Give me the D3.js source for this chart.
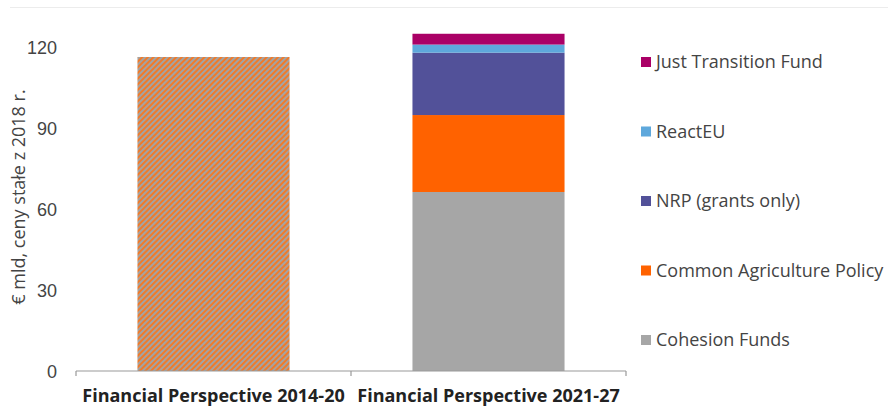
<!DOCTYPE html>
<html>
<head>
<meta charset="utf-8">
<script src="https://cdn.jsdelivr.net/npm/d3@7"></script>
<style>
  body { margin: 0; background: #fff; }
  svg { display: block; font-family: "Open Sans", "Noto Sans", sans-serif; }
</style>
</head>
<body>
<svg id="chart" width="888" height="407"></svg>
<script>
// Categories on the x axis
const categories = ["Financial Perspective 2014-20", "Financial Perspective 2021-27"];
// Stacked series for the 2021-27 perspective (bottom to top)
const seriesNames = ["Cohesion Funds", "Common Agriculture Policy", "NRP (grants only)", "ReactEU", "Just Transition Fund"];
const seriesColors = ["#a6a6a6", "#ff6200", "#525199", "#5ea8dc", "#aa0066"];
const values2021 = [66.3, 28.5, 23.1, 3.0, 4.0];
// Total for 2014-20 (single hatched bar)
const total2014 = 116.3;
const yTicks = [0, 30, 60, 90, 120];
const yTitle = "€ mld, ceny stałe z 2018 r.";

const svg = d3.select("#chart");

const x = d3.scaleBand().domain(categories).range([76, 626]).paddingInner(0.447).paddingOuter(0.2235);
const y = d3.scaleLinear().domain([0, 120]).range([371, 47]);

// Top rule
svg.append("line").attr("x1", 10).attr("x2", 888).attr("y1", 7.5).attr("y2", 7.5)
  .attr("stroke", "#ececec").attr("stroke-width", 1);

// Hatch pattern
const defs = svg.append("defs");
const pat = defs.append("pattern").attr("id", "hatch").attr("patternUnits", "userSpaceOnUse")
  .attr("width", 4).attr("height", 4).attr("patternTransform", "rotate(45)");
pat.append("rect").attr("width", 4).attr("height", 4).attr("fill", "#a3a3a3");
pat.append("rect").attr("width", 2).attr("height", 4).attr("fill", "#f07a2a");

// 2014-20 bar
svg.append("rect")
  .attr("x", x(categories[0])).attr("width", x.bandwidth())
  .attr("y", y(total2014)).attr("height", y(0) - y(total2014))
  .attr("fill", "url(#hatch)");

// 2021-27 stacked bar
const stackData = [Object.fromEntries(seriesNames.map((n, i) => [n, values2021[i]]))];
const stacked = d3.stack().keys(seriesNames)(stackData);
svg.append("g").selectAll("rect").data(stacked).join("rect")
  .attr("x", x(categories[1])).attr("width", x.bandwidth())
  .attr("y", d => y(d[0][1])).attr("height", d => y(d[0][0]) - y(d[0][1]))
  .attr("fill", (d, i) => seriesColors[i]);

// Y axis labels
const yAxis = svg.append("g").attr("transform", "translate(57,0)")
  .call(d3.axisLeft(y).tickValues(yTicks).tickSize(0).tickPadding(0));
yAxis.select(".domain").remove();
yAxis.selectAll("text").attr("font-size", 18).attr("fill", "#444").attr("dy", "0.35em");

// X axis
const xAxis = svg.append("g").attr("transform", "translate(0,371)");
xAxis.append("line").attr("x1", 76).attr("x2", 626).attr("stroke", "#999").attr("stroke-width", 1.2);
[76, 76 + x.step(), 626].forEach(px => {
  xAxis.append("line").attr("x1", px).attr("x2", px).attr("y1", 0).attr("y2", 5)
    .attr("stroke", "#999").attr("stroke-width", 1.2);
});
xAxis.selectAll("text.cat").data(categories).join("text").attr("class", "cat")
  .attr("x", d => x(d) + x.bandwidth() / 2).attr("y", 31)
  .attr("text-anchor", "middle").attr("font-size", 18).attr("font-weight", "bold").attr("fill", "#222")
  .text(d => d);

// Y title
svg.append("text").attr("transform", "translate(25,197) rotate(-90)")
  .attr("text-anchor", "middle").attr("font-size", 18).attr("fill", "#444").text(yTitle);

// Legend (top to bottom: reverse of stack)
const legendItems = seriesNames.map((n, i) => ({ n, c: seriesColors[i] })).reverse();
const lg = svg.append("g").selectAll("g").data(legendItems).join("g")
  .attr("transform", (d, i) => `translate(641,${62 + i * 69.5})`);
lg.append("rect").attr("x", 0).attr("y", -5).attr("width", 10).attr("height", 10).attr("fill", d => d.c);
lg.append("text").attr("x", 15).attr("dy", "0.35em").attr("font-size", 18).attr("fill", "#444").text(d => d.n);
</script>
</body>
</html>
